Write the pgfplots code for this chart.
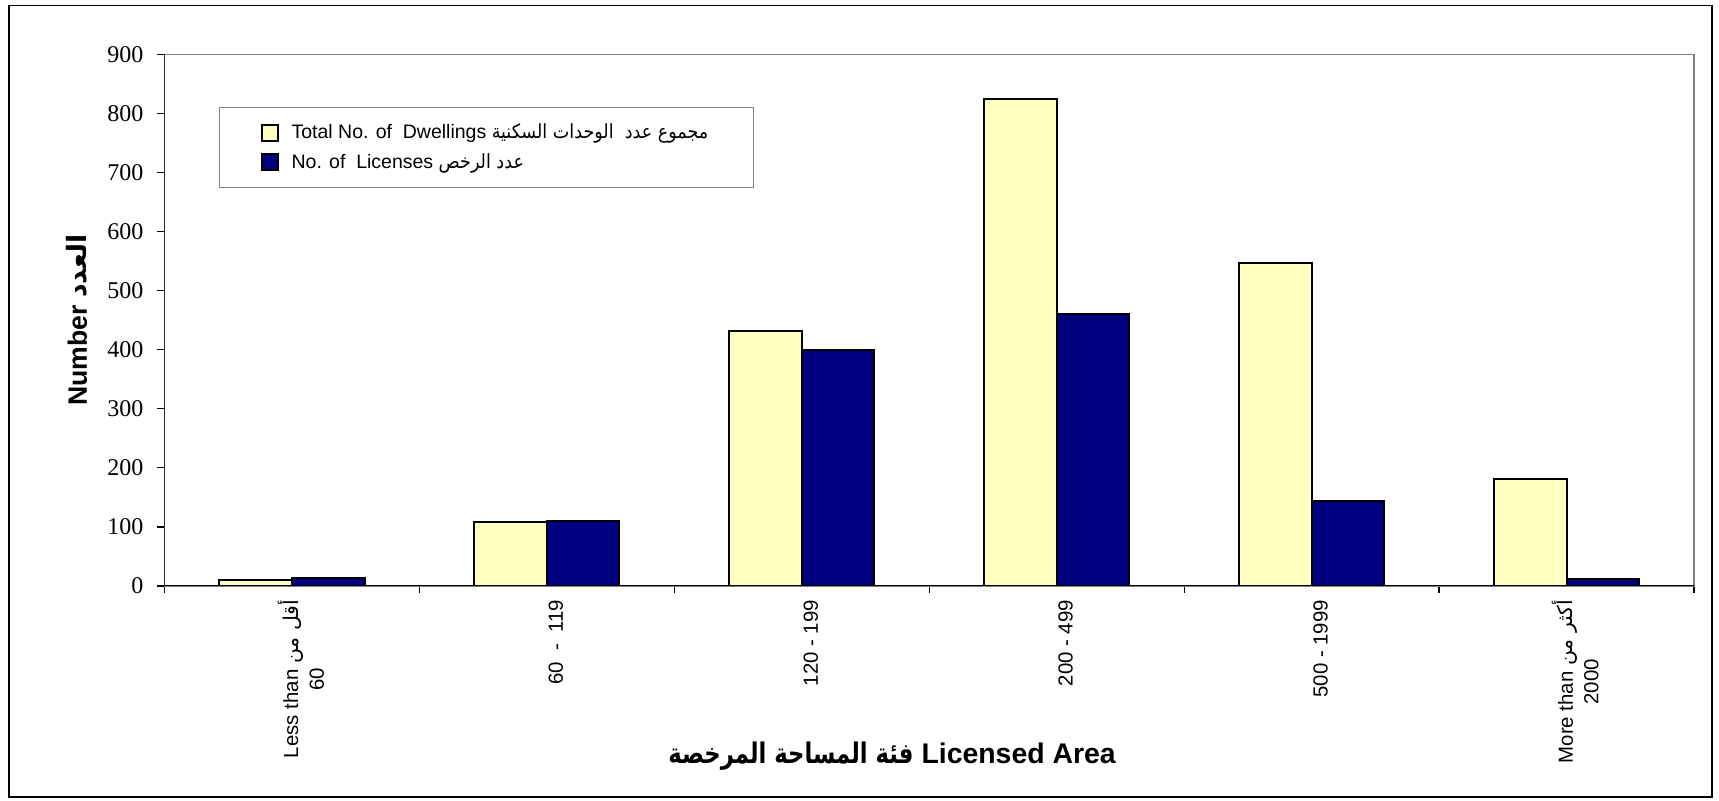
\documentclass[border=0pt]{standalone}
\usepackage{fontspec}
\setmainfont{Liberation Sans}
\newfontfamily\serifnum{Liberation Serif}
\newfontfamily\arabicfont[Script=Arabic]{DejaVu Sans}
\newfontfamily\arabicleg[Script=Arabic,FakeStretch=0.9]{DejaVu Sans}
\newfontfamily\arabicxl[Script=Arabic,FakeStretch=0.8]{DejaVu Sans}
\usepackage{pgfplots}
\pgfplotsset{compat=1.18}
\TeXXeTstate=1
\definecolor{dwell}{RGB}{255,255,192}
\definecolor{lic}{RGB}{0,0,128}
\begin{document}
\begin{tikzpicture}[x=1pt,y=1pt]
\useasboundingbox (0,0) rectangle (859.5,400.5);
\draw[black, line width=0.7pt] (4.4,2) rectangle (856,397.7);
\begin{axis}[
  at={(82.2pt,107.5pt)}, anchor=south west,
  scale only axis, width=764.8pt, height=265.75pt,
  xmin=-0.5, xmax=5.5, ymin=0, ymax=900,
  ytick={0,100,...,900},
  xtick={0,...,5},
  xticklabels={{Less than {\arabicfont\beginR أقل من\endR}\\60},{60\ \ -\ \ 119},{120 - 199},{200 - 499},{500 - 1999},{More than {\arabicfont\beginR أكثر من\endR}\\2000}},
  minor xtick={-0.5,0.5,...,5.5},
  major x tick style={draw=none},
  xtick pos=bottom, ytick pos=left,
  tick align=outside,
  major tick length=3.5pt, minor tick length=3.5pt,
  tick style={black, line width=0.6pt},
  axis line style={draw=gray, line width=0.7pt},
  /pgf/number format/assume math mode=true,
  yticklabel style={font=\fontsize{12}{14}\selectfont\serifnum, xshift=-3.5pt},
  xticklabel style={rotate=90, anchor=east, align=center, font=\fontsize{10.2}{12.8}\selectfont, yshift=-4.5pt},
  ybar=0pt, bar width=0.285,
  ylabel={\bfseries Number {\arabicfont\bfseries\beginR العدد\endR}},
  ylabel style={font=\fontsize{13.3}{15}\selectfont, at={(axis description cs:-0.0571,0.5)}, anchor=center},
  xlabel={{\arabicxl\bfseries\beginR فئة المساحة المرخصة\endR}\ \bfseries Licensed Area},
  xlabel style={font=\fontsize{14.2}{17}\selectfont, at={(axis description cs:0.4757,-0.3208)}, anchor=center},
  legend image code/.code={\draw[#1, line width=1pt] (0pt,-4pt) rectangle (8pt,4pt);},
  legend style={at={(axis description cs:0.0357,0.901)}, anchor=north west,
    draw=gray, line width=0.6pt, font=\fontsize{9.75}{11.5}\selectfont,
    inner xsep=20.5pt, inner ysep=6pt, row sep=2pt, cells={anchor=west},
    /tikz/every odd column/.append style={column sep=4.5pt}},
]
\addplot[fill=dwell, draw=black, line width=1pt, bar shift=-0.1425] coordinates {(0,10) (1,109) (2,431) (3,825) (4,547) (5,181)};
\addlegendentry{Total No. of\ \ Dwellings {\arabicleg\beginR مجموع عدد\ \ الوحدات السكنية\endR}}
\addplot[fill=lic, draw=black, line width=1pt, bar shift=0.1425] coordinates {(0,14) (1,110) (2,399) (3,461) (4,144) (5,11)};
\addlegendentry{No. of\ \ Licenses {\arabicleg\beginR عدد الرخص\endR}}
\draw[black, line width=0.8pt] (rel axis cs:0,1) -- (rel axis cs:0,0) -- (rel axis cs:1,0);
\end{axis}
\end{tikzpicture}
\end{document}
